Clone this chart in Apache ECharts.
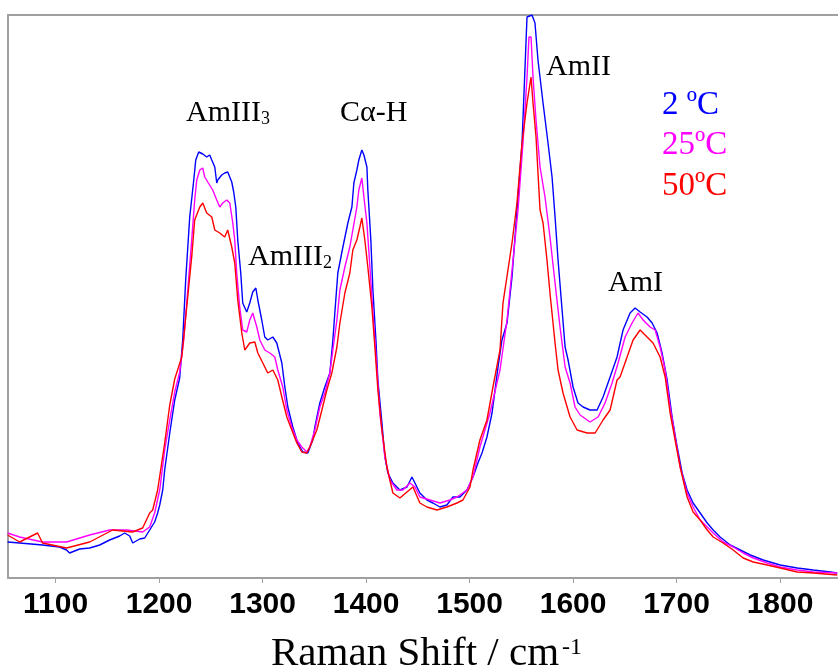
<!DOCTYPE html>
<html>
<head>
<meta charset="utf-8">
<script src="https://cdn.jsdelivr.net/npm/echarts@6/dist/echarts.min.js"></script>
<style>
html,body{margin:0;padding:0;background:#fff;}
#chart{width:838px;height:671px;}
</style>
</head>
<body>
<div id="chart"></div>
<script>
// Raman shift (cm-1) tick labels
const tickValues = [1100, 1200, 1300, 1400, 1500, 1600, 1700, 1800];

// Series names
const seriesNames = ['2 ºC', '25ºC', '50ºC'];

// 2 ºC (blue): [Raman shift, intensity a.u.]
const spec2C = [
[1053.6,36],[1065.2,35],[1087.4,33],[1103.9,31],[1110.6,28],[1113.5,25],[1123.2,29],[1132.9,30],
[1142.6,33],[1152.2,38],[1161.9,42],[1166.7,45],[1171.6,42],[1174.5,35],[1181.2,39],[1186.1,40],
[1190.9,48],[1195.7,56],[1198.6,65],[1200.6,73],[1203.5,88],[1205.4,108],[1210.3,145],[1215.1,178],
[1219.9,200],[1222.8,238],[1225.7,298],[1229.6,361],[1233.5,398],[1235.4,418],[1238.3,426],[1242.2,424],
[1244.1,425],[1246.0,421],[1248.9,423],[1250.9,418],[1253.8,411],[1255.7,395],[1256.7,398],[1260.5,403],
[1263.4,405],[1266.3,406],[1270.2,396],[1272.1,386],[1274.1,371],[1276.0,338],[1278.9,305],[1280.8,275],
[1284.7,266],[1287.6,275],[1290.5,286],[1293.5,290],[1295.4,278],[1299.2,258],[1302.1,241],[1305.0,238],
[1309.9,241],[1313.7,235],[1318.6,215],[1321.5,191],[1324.4,171],[1329.2,151],[1334.0,135],[1338.9,126],
[1343.7,125],[1348.5,138],[1350.5,151],[1355.3,175],[1360.1,191],[1365.0,205],[1367.9,238],[1369.8,265],
[1372.7,305],[1377.6,331],[1382.4,355],[1386.3,371],[1388.2,395],[1391.1,408],[1393.0,418],[1395.9,428],
[1397.9,423],[1400.8,411],[1401.7,388],[1404.6,338],[1406.6,288],[1409.5,238],[1411.4,198],[1415.3,155],
[1418.2,121],[1421.1,105],[1425.9,95],[1432.7,88],[1439.5,91],[1444.3,101],[1447.2,95],[1452.0,85],
[1458.8,78],[1464.6,75],[1471.4,71],[1478.1,73],[1483.9,81],[1490.7,81],[1497.5,88],[1503.3,101],
[1508.1,115],[1512.0,125],[1516.8,141],[1521.7,165],[1524.6,188],[1527.5,211],[1531.3,238],[1536.2,255],
[1541.0,301],[1543.9,341],[1546.8,381],[1550.7,435],[1552.6,485],[1554.5,535],[1555.5,561],[1560.3,563],
[1563.2,555],[1566.1,518],[1571.0,475],[1575.8,435],[1579.7,401],[1582.6,361],[1585.5,318],[1589.4,268],
[1592.3,231],[1595.2,218],[1600.0,191],[1604.8,175],[1609.7,171],[1616.4,168],[1623.2,168],[1629.0,181],
[1635.8,201],[1642.5,221],[1648.3,248],[1655.1,265],[1659.9,270],[1664.8,266],[1671.5,261],[1676.4,255],
[1681.2,245],[1686.0,225],[1690.9,198],[1695.7,161],[1700.6,131],[1705.4,105],[1710.2,88],[1716.0,75],
[1722.8,65],[1729.6,55],[1735.4,48],[1742.1,41],[1751.8,33],[1761.5,28],[1771.2,23],[1783.7,18],
[1800.2,13],[1816.6,10],[1832.1,8],[1848.5,6],[1855.3,5]
];

// 25 ºC (magenta)
const spec25C = [
[1053.6,45],[1065.2,41],[1087.4,36],[1110.6,36],[1132.9,43],[1152.2,48],[1168.7,48],[1184.1,46],
[1190.9,51],[1195.7,65],[1200.6,88],[1205.4,128],[1210.3,158],[1215.1,186],[1219.9,206],[1223.8,238],
[1227.7,288],[1231.5,338],[1234.4,378],[1236.4,398],[1239.3,408],[1242.2,410],[1244.1,401],[1247.0,396],
[1248.9,395],[1251.8,388],[1255.7,378],[1258.6,371],[1261.5,375],[1265.4,378],[1268.3,375],[1271.2,355],
[1273.1,338],[1275.0,305],[1277.9,271],[1280.8,248],[1284.7,246],[1287.6,258],[1290.5,265],[1294.4,251],
[1297.3,238],[1302.1,228],[1307.0,225],[1311.8,221],[1314.7,208],[1319.5,191],[1323.4,168],[1328.2,151],
[1333.1,138],[1337.9,131],[1342.7,126],[1345.6,131],[1350.5,148],[1355.3,171],[1360.1,185],[1365.0,205],
[1367.9,228],[1371.8,258],[1374.7,288],[1379.5,311],[1384.3,331],[1387.2,348],[1391.1,371],[1393.0,388],
[1395.9,400],[1397.9,381],[1400.8,355],[1403.7,311],[1406.6,265],[1410.4,211],[1413.3,165],[1418.2,121],
[1423.0,98],[1429.8,88],[1435.6,88],[1442.4,95],[1447.2,91],[1452.0,81],[1461.7,78],[1471.4,75],
[1481.0,78],[1487.8,81],[1497.5,88],[1503.3,101],[1510.0,131],[1519.7,165],[1529.4,208],[1536.2,258],
[1542.0,318],[1546.8,368],[1551.6,435],[1555.5,501],[1557.4,541],[1559.4,541],[1561.3,501],[1564.2,458],
[1568.1,411],[1572.9,381],[1577.7,341],[1582.6,295],[1587.4,251],[1592.3,211],[1597.1,195],[1601.9,171],
[1606.8,163],[1616.4,156],[1624.2,161],[1630.9,175],[1637.7,195],[1643.5,215],[1650.3,241],[1657.0,255],
[1662.8,265],[1667.7,258],[1674.4,251],[1679.3,248],[1684.1,231],[1689.0,208],[1693.8,171],[1698.6,141],
[1703.5,111],[1710.2,85],[1716.0,71],[1722.8,58],[1729.6,51],[1735.4,45],[1745.0,36],[1754.7,31],
[1764.4,25],[1774.1,20],[1787.6,15],[1800.2,11],[1816.6,8],[1832.1,6],[1855.3,5]
];

// 50 ºC (red)
const spec50C = [
[1053.6,43],[1065.2,36],[1082.6,45],[1087.4,35],[1110.6,30],[1132.9,36],[1155.1,48],[1174.5,46],
[1184.1,50],[1190.9,65],[1193.8,68],[1198.6,88],[1205.4,135],[1210.3,173],[1215.1,199],[1221.9,221],
[1226.7,271],[1231.5,321],[1234.4,358],[1239.3,371],[1242.2,375],[1246.0,365],[1250.9,361],[1253.8,348],
[1258.6,345],[1263.4,341],[1266.3,348],[1270.2,331],[1273.1,315],[1276.0,278],[1279.9,245],[1282.8,228],
[1287.6,235],[1292.5,236],[1295.4,225],[1300.2,215],[1305.0,205],[1309.9,208],[1314.7,198],[1318.6,181],
[1323.4,161],[1328.2,148],[1333.1,135],[1337.9,126],[1342.7,125],[1345.6,131],[1352.4,148],[1357.3,168],
[1362.1,188],[1366.9,205],[1371.8,231],[1374.7,255],[1379.5,285],[1384.3,305],[1387.2,328],[1391.1,338],
[1394.0,351],[1395.9,360],[1398.8,338],[1401.7,311],[1405.6,271],[1408.5,231],[1411.4,188],[1415.3,148],
[1420.1,111],[1425.9,85],[1432.7,80],[1439.5,86],[1445.3,91],[1452.0,75],[1458.8,71],[1468.5,68],
[1478.1,71],[1487.8,75],[1493.6,78],[1500.4,91],[1503.3,108],[1510.0,138],[1516.8,158],[1522.6,191],
[1529.4,228],[1532.3,275],[1541.0,335],[1545.8,375],[1550.7,435],[1555.5,475],[1559.4,501],[1561.3,475],
[1564.2,441],[1568.1,368],[1571.0,355],[1574.8,318],[1577.7,285],[1582.6,235],[1585.5,208],[1590.3,185],
[1597.1,161],[1603.9,148],[1613.5,145],[1621.3,145],[1629.0,158],[1635.8,168],[1642.5,198],[1645.4,201],
[1652.2,221],[1658.0,238],[1664.8,248],[1671.5,241],[1677.3,235],[1684.1,221],[1689.0,201],[1693.8,165],
[1698.6,138],[1703.5,111],[1710.2,81],[1716.0,66],[1722.8,58],[1729.6,48],[1735.4,41],[1745.0,35],
[1754.7,28],[1764.4,20],[1774.1,16],[1787.6,13],[1800.2,10],[1816.6,6],[1832.1,5],[1855.3,3]
];

const colors = ['#0000ff', '#ff00ff', '#ff0000'];
const gray = '#a0a0a0';
const serif = '"Liberation Serif", "Times New Roman", serif';

const chart = echarts.init(document.getElementById('chart'), null, {renderer: 'canvas'});

function txt(text, x, y, size, color) {
  return {type: 'text', x: x, y: y, z: 100,
    style: {text: text, fontSize: size, fontFamily: serif, fill: color, align: 'left', verticalAlign: 'middle'}};
}

const option = {
  animation: false,
  backgroundColor: '#fff',
  grid: {left: 8, right: 0, top: 15, bottom: 93, containLabel: false},
  xAxis: [{
    type: 'value', min: 1054, max: 1856, position: 'bottom',
    axisLine: {show: true, lineStyle: {color: gray, width: 2}},
    axisTick: {show: true, inside: false, length: 5, lineStyle: {color: gray, width: 1}, customValues: tickValues},
    axisLabel: {show: true, customValues: tickValues, formatter: v => String(v), color: '#000', fontWeight: 'bold', fontSize: 30,
      fontFamily: '"Liberation Sans", Arial, sans-serif', margin: 12},
    splitLine: {show: false}
  }, {
    type: 'value', min: 1054, max: 1856, position: 'top',
    axisLine: {show: true, onZero: false, lineStyle: {color: gray, width: 2}},
    axisTick: {show: false}, axisLabel: {show: false}, splitLine: {show: false}
  }],
  yAxis: {
    type: 'value', min: 0, max: 563,
    axisLine: {show: true, lineStyle: {color: gray, width: 2}},
    axisTick: {show: false}, axisLabel: {show: false}, splitLine: {show: false}
  },
  series: [spec2C, spec25C, spec50C].map((d, i) => ({
    name: seriesNames[i], type: 'line', xAxisIndex: 0, data: d, showSymbol: false, smooth: false,
    lineStyle: {color: colors[i], width: 1.4}, itemStyle: {color: colors[i]}, clip: true
  })),
  graphic: [
    txt('AmIII', 186, 113, 30, '#000'),
    txt('3', 261, 119, 18, '#000'),
    txt('Cα-H', 340, 113, 30, '#000'),
    txt('AmIII', 248, 257, 30, '#000'),
    txt('2', 323, 263, 18, '#000'),
    txt('AmII', 546, 67, 30, '#000'),
    txt('AmI', 608, 283, 30, '#000'),
    txt(seriesNames[0], 662, 105, 33, colors[0]),
    txt(seriesNames[1], 662, 145, 33, colors[1]),
    txt(seriesNames[2], 662, 186, 33, colors[2]),
    txt('Raman Shift / cm', 271, 654, 41, '#000'),
    txt('-1', 562, 648, 24, '#000')
  ]
};
chart.setOption(option);
</script>
</body>
</html>
